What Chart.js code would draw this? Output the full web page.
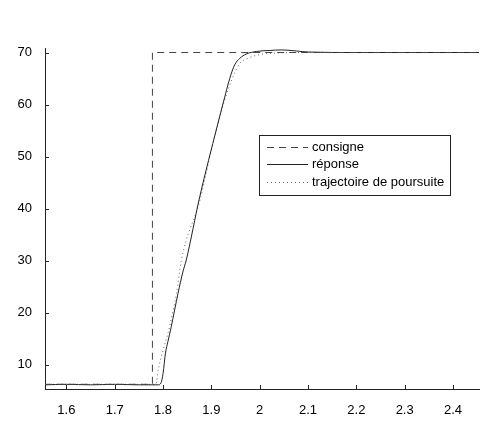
<!DOCTYPE html>
<html>
<head>
<meta charset="utf-8">
<script src="https://cdn.jsdelivr.net/npm/chart.js@4"></script>
<style>
  html, body { margin: 0; padding: 0; background: #fff; }
  #wrap { width: 488px; height: 429px; }
</style>
</head>
<body>
<div id="wrap"><canvas id="graph"></canvas></div>
<script>
// consigne (step)
var consTime = [1.5557, 1.778, 1.778, 2.4538];
var consValue = [6.2, 6.2, 70, 70];

// réponse du système
var respTime = [1.5557, 1.60, 1.65, 1.70, 1.75, 1.79, 1.796, 1.80, 1.805, 1.81, 1.817, 1.824, 1.831, 1.841, 1.848, 1.876, 1.912, 1.925, 1.938, 1.948, 1.959, 1.972, 1.993, 2.021, 2.045, 2.076, 2.10, 2.2, 2.3, 2.4538];
var respValue = [6.1, 6.2, 6.1, 6.2, 6.1, 6.1, 6.5, 8.3, 12.2, 14.4, 17.3, 20.5, 23.7, 27.8, 30.1, 42.3, 55.8, 60.5, 65.0, 67.6, 68.9, 69.7, 70.2, 70.4, 70.5, 70.3, 70.1, 70.0, 70.0, 70.0];

// trajectoire de poursuite
var trajTime = [1.5557, 1.785, 1.79, 1.80, 1.81, 1.821, 1.828, 1.838, 1.876, 1.907, 1.937, 1.959, 1.976, 2.0, 2.034, 2.07, 2.4538];
var trajValue = [6.2, 6.2, 9.0, 12.8, 16, 20.5, 23.7, 30.1, 41.5, 54, 63.5, 67.9, 68.9, 69.6, 69.9, 70, 70];

var xTicks = [1.6, 1.7, 1.8, 1.9, 2, 2.1, 2.2, 2.3, 2.4];
var yTicks = [10, 20, 30, 40, 50, 60, 70];

function pts(xs, ys) {
    var out = [];
    for (var i = 0; i < xs.length; i++) {
        out.push({x: xs[i], y: ys[i]});
    }
    return out;
}

// ticks drawn inside the axes, matlab style
var innerTicks = {
    id: 'innerTicks',
    afterDraw: function(chart) {
        var ctx = chart.ctx;
        var a = chart.chartArea;
        var xs = chart.scales.x, ys = chart.scales.y;
        ctx.save();
        ctx.strokeStyle = '#222';
        ctx.lineWidth = 1;
        ctx.beginPath();
        xTicks.forEach(function(v) {
            var px = Math.round(xs.getPixelForValue(v)) + 0.5;
            ctx.moveTo(px, a.bottom);
            ctx.lineTo(px, a.bottom - 4);
        });
        yTicks.forEach(function(v) {
            var py = Math.round(ys.getPixelForValue(v)) + 0.5;
            ctx.moveTo(a.left, py);
            ctx.lineTo(a.left + 4, py);
        });
        ctx.stroke();
        ctx.restore();
    }
};

// legend box inside the plot
var boxLegend = {
    id: 'boxLegend',
    afterDraw: function(chart) {
        var ctx = chart.ctx;
        var bx = 259.5, by = 135.5, bw = 191, bh = 60;
        ctx.save();
        ctx.fillStyle = '#fff';
        ctx.fillRect(bx, by, bw, bh);
        ctx.strokeStyle = '#222';
        ctx.lineWidth = 1;
        ctx.strokeRect(bx, by, bw, bh);
        ctx.font = '13px "Liberation Sans", Arial, sans-serif';
        ctx.textBaseline = 'middle';
        chart.data.datasets.forEach(function(ds, i) {
            var y = Math.round(by + 11.5 + i * 17.3) + 0.5;
            ctx.strokeStyle = ds.borderColor;
            ctx.setLineDash(ds.borderDash || []);
            ctx.beginPath();
            ctx.moveTo(267, y);
            ctx.lineTo(308, y);
            ctx.stroke();
            ctx.setLineDash([]);
            ctx.fillStyle = '#000';
            ctx.fillText(ds.label, 312, y);
        });
        ctx.restore();
    }
};

var ctx = document.getElementById('graph');
var chart = new Chart(ctx, {
    type: 'line',
    data: {
        datasets: [
            {
                label: 'consigne',
                data: pts(consTime, consValue),
                borderColor: '#444',
                borderWidth: 1,
                borderDash: [7, 5],
                pointRadius: 0,
                tension: 0
            },
            {
                label: 'réponse',
                data: pts(respTime, respValue),
                borderColor: '#222',
                borderWidth: 1,
                pointRadius: 0,
                cubicInterpolationMode: 'monotone'
            },
            {
                label: 'trajectoire de poursuite',
                data: pts(trajTime, trajValue),
                borderColor: '#666',
                borderWidth: 1,
                borderDash: [1, 3],
                pointRadius: 0,
                cubicInterpolationMode: 'monotone'
            }
        ]
    },
    options: {
        responsive: true,
        maintainAspectRatio: false,
        animation: false,
        layout: { padding: { top: 48, right: 9, left: 0, bottom: 0 } },
        plugins: {
            legend: { display: false },
            tooltip: { enabled: false }
        },
        scales: {
            x: {
                type: 'linear',
                min: 1.5557,
                max: 2.4538,
                afterFit: function(s) { s.height = 40; },
                afterBuildTicks: function(s) {
                    s.ticks = xTicks.map(function(v) { return {value: v}; });
                },
                grid: { display: false },
                border: { display: true, color: '#222', width: 1 },
                ticks: {
                    padding: 6,
                    color: '#000',
                    maxRotation: 0,
                    font: { family: '"Liberation Sans", Arial, sans-serif', size: 13 },
                    callback: function(v) { return String(v); }
                }
            },
            y: {
                min: 5.3,
                max: 70.87,
                afterFit: function(s) { s.width = 45; },
                afterBuildTicks: function(s) {
                    s.ticks = yTicks.map(function(v) { return {value: v}; });
                },
                grid: { display: false },
                border: { display: true, color: '#222', width: 1 },
                ticks: {
                    padding: 5,
                    color: '#000',
                    font: { family: '"Liberation Sans", Arial, sans-serif', size: 13 }
                }
            }
        }
    },
    plugins: [innerTicks, boxLegend]
});
</script>
</body>
</html>
